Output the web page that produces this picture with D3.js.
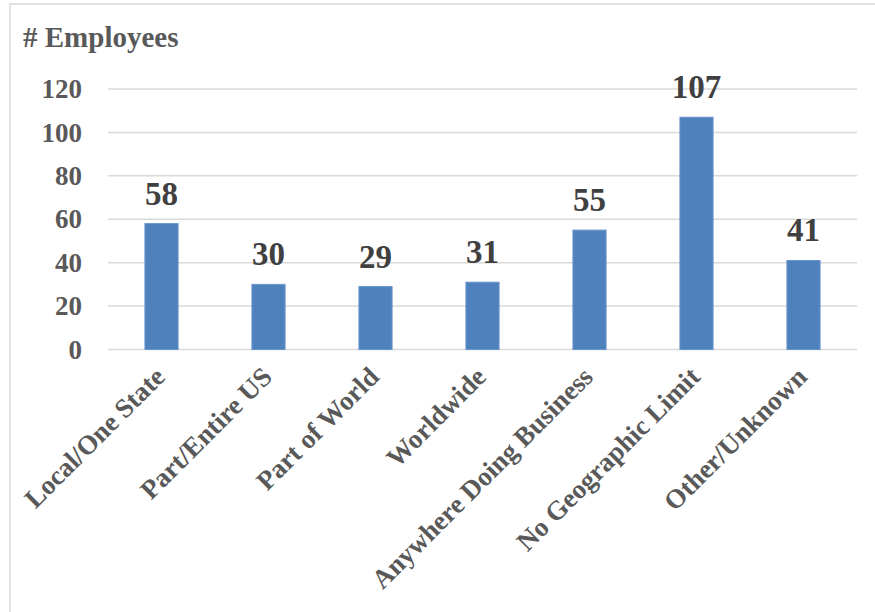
<!DOCTYPE html>
<html>
<head>
<meta charset="utf-8">
<script src="https://cdn.jsdelivr.net/npm/d3@7"></script>
<style>
  html, body { margin: 0; padding: 0; background: #fff; }
  svg { display: block; }
  text { font-family: "Liberation Serif", "Times New Roman", serif; font-weight: bold; }
</style>
</head>
<body>
<svg id="chart" width="875" height="612"></svg>
<script>
// Employees by geographic scope
const categories = [
  "Local/One State",
  "Part/Entire US",
  "Part of World",
  "Worldwide",
  "Anywhere Doing Business",
  "No Geographic Limit",
  "Other/Unknown"
];
const employees = [58, 30, 29, 31, 55, 107, 41];
const yTicks = [0, 20, 40, 60, 80, 100, 120];
const yTitle = "# Employees";

const svg = d3.select("#chart");
const plot = { left: 108, right: 857, top: 89, bottom: 349.5 };

// outer chart frame (extends past the right and bottom edges)
svg.append("rect")
  .attr("x", 10).attr("y", 4)
  .attr("width", 900).attr("height", 700)
  .attr("fill", "none")
  .attr("stroke", "#d9d9d9")
  .attr("stroke-width", 1.5);

const x = d3.scaleBand()
  .domain(categories)
  .range([plot.left, plot.right])
  .paddingInner(0.69)
  .paddingOuter(0.345);

const y = d3.scaleLinear()
  .domain([0, 120])
  .range([plot.bottom, plot.top]);

// gridlines
svg.append("g")
  .selectAll("line")
  .data(yTicks)
  .join("line")
  .attr("x1", plot.left).attr("x2", plot.right)
  .attr("y1", d => y(d)).attr("y2", d => y(d))
  .attr("stroke", "#d9d9d9")
  .attr("stroke-width", 1.5);

// y axis labels
const yAxis = svg.append("g")
  .attr("transform", `translate(${plot.left},0)`)
  .call(d3.axisLeft(y).tickValues(yTicks).tickSize(0).tickPadding(26));
yAxis.select(".domain").remove();
yAxis.selectAll("text")
  .attr("fill", "#595959")
  .style("font-family", '"Liberation Serif", "Times New Roman", serif')
  .style("font-weight", "bold")
  .style("font-size", "27px");

// bars
svg.append("g")
  .selectAll("rect")
  .data(categories)
  .join("rect")
  .attr("x", d => x(d))
  .attr("y", (d, i) => y(employees[i]))
  .attr("width", x.bandwidth())
  .attr("height", (d, i) => y(0) - y(employees[i]))
  .attr("fill", "#4f81bd")
  .attr("stroke", "#6b96cc")
  .attr("stroke-width", 1);

// value labels
svg.append("g")
  .selectAll("text")
  .data(categories)
  .join("text")
  .attr("x", d => x(d) + x.bandwidth() / 2)
  .attr("y", (d, i) => y(employees[i]) - 19)
  .attr("text-anchor", "middle")
  .attr("fill", "#404040")
  .style("font-size", "33px")
  .text((d, i) => employees[i]);

// category labels, rotated
svg.append("g")
  .selectAll("text")
  .data(categories)
  .join("text")
  .attr("transform", d => `translate(${x(d) + x.bandwidth() / 2 + 5},${plot.bottom + 29}) rotate(-45)`)
  .attr("text-anchor", "end")
  .attr("fill", "#595959")
  .style("font-size", "27px")
  .text(d => d);

// axis title
svg.append("text")
  .attr("x", 23)
  .attr("y", 47)
  .attr("fill", "#595959")
  .style("font-size", "29px")
  .text(yTitle);
</script>
</body>
</html>
